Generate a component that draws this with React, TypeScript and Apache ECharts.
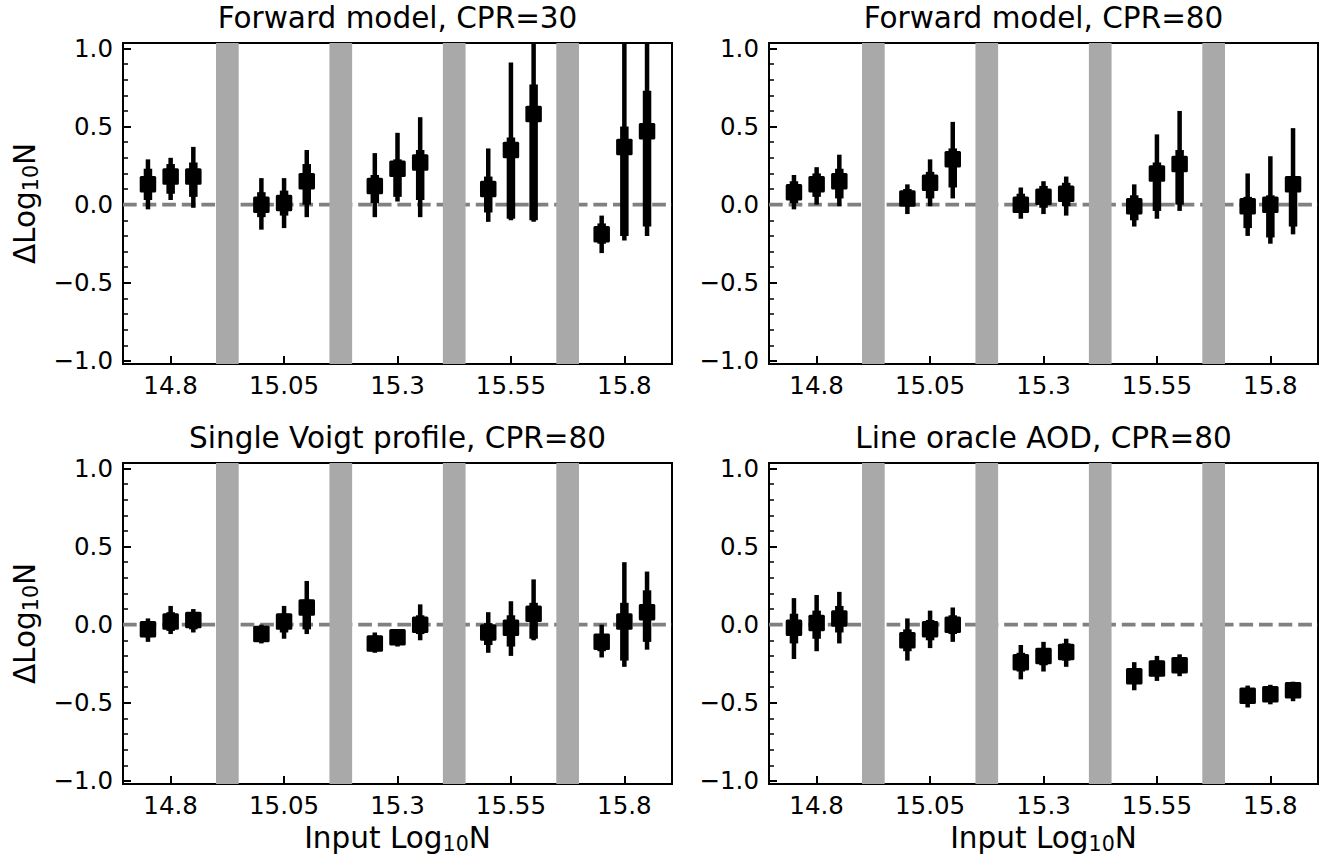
import React, { useEffect, useRef } from "react";
import * as echarts from "echarts";

// ---------- data ----------
const X_POSITIONS = [14.75, 14.8, 14.85, 15.0, 15.05, 15.1, 15.25, 15.3, 15.35, 15.5, 15.55, 15.6, 15.75, 15.8, 15.85];
const X_TICKS = [14.8, 15.05, 15.3, 15.55, 15.8];
const X_TICK_LABELS = ["14.8", "15.05", "15.3", "15.55", "15.8"];
const Y_MAJOR_TICKS = [-1, -0.5, 0, 0.5, 1];
const Y_MINOR_TICKS = [-1, -0.9, -0.8, -0.7, -0.6, -0.5, -0.4, -0.3, -0.2, -0.1, 0, 0.1, 0.2, 0.3, 0.4, 0.5, 0.6, 0.7, 0.8, 0.9, 1];
const BAND_STARTS = [14.9, 15.15, 15.4, 15.65];
const BAND_ENDS = [14.95, 15.2, 15.45, 15.7];
const REFERENCE_LEVEL = 0;
const X_MIN = 14.695;
const X_MAX = 15.905;
const Y_MIN = -1.02;
const Y_MAX = 1.035;

const PANEL_TITLES = [
  "Forward model, CPR=30",
  "Forward model, CPR=80",
  "Single Voigt profile, CPR=80",
  "Line oracle AOD, CPR=80",
];

// Forward model, CPR=30
const FWD30_MED = [0.13, 0.18, 0.18, 0.0, 0.01, 0.15, 0.12, 0.23, 0.27, 0.1, 0.35, 0.58, -0.19, 0.37, 0.47];
const FWD30_IN_LO = [0.03, 0.07, 0.05, -0.08, -0.07, 0.0, 0.01, 0.05, 0.03, -0.05, -0.09, -0.1, -0.25, -0.2, -0.14];
const FWD30_IN_HI = [0.23, 0.26, 0.27, 0.08, 0.09, 0.26, 0.19, 0.29, 0.35, 0.18, 0.43, 0.77, -0.12, 0.5, 0.73];
const FWD30_OUT_LO = [-0.03, 0.03, -0.02, -0.16, -0.15, -0.08, -0.08, 0.02, -0.08, -0.11, -0.1, -0.11, -0.31, -0.23, -0.2];
const FWD30_OUT_HI = [0.29, 0.3, 0.37, 0.17, 0.17, 0.35, 0.33, 0.46, 0.56, 0.36, 0.91, 1.25, -0.07, 1.25, 1.25];

// Forward model, CPR=80
const FWD80_MED = [0.08, 0.13, 0.15, 0.04, 0.14, 0.29, 0.0, 0.05, 0.07, -0.01, 0.2, 0.26, -0.01, 0.0, 0.13];
const FWD80_IN_LO = [0.01, 0.05, 0.04, 0.0, 0.04, 0.11, -0.05, -0.02, -0.01, -0.1, -0.04, 0.0, -0.15, -0.21, -0.14];
const FWD80_IN_HI = [0.15, 0.2, 0.23, 0.1, 0.21, 0.36, 0.07, 0.12, 0.14, 0.06, 0.27, 0.35, 0.05, 0.06, 0.18];
const FWD80_OUT_LO = [-0.03, 0.0, -0.01, -0.06, -0.01, 0.04, -0.09, -0.06, -0.07, -0.14, -0.09, -0.04, -0.2, -0.25, -0.19];
const FWD80_OUT_HI = [0.19, 0.24, 0.32, 0.13, 0.29, 0.53, 0.11, 0.15, 0.18, 0.13, 0.45, 0.6, 0.2, 0.31, 0.49];

// Single Voigt profile, CPR=80
const VOIGT_MED = [-0.03, 0.02, 0.03, -0.06, 0.02, 0.11, -0.12, -0.08, 0.0, -0.05, -0.02, 0.07, -0.11, 0.02, 0.08];
const VOIGT_IN_LO = [-0.08, -0.04, -0.03, -0.1, -0.05, -0.03, -0.17, -0.13, -0.06, -0.13, -0.14, -0.09, -0.17, -0.23, -0.11];
const VOIGT_IN_HI = [0.01, 0.08, 0.08, -0.01, 0.07, 0.16, -0.07, -0.03, 0.06, 0.01, 0.06, 0.14, -0.06, 0.14, 0.22];
const VOIGT_OUT_LO = [-0.11, -0.06, -0.05, -0.12, -0.09, -0.06, -0.18, -0.14, -0.1, -0.18, -0.2, -0.1, -0.21, -0.27, -0.16];
const VOIGT_OUT_HI = [0.04, 0.12, 0.1, 0.0, 0.12, 0.28, -0.05, -0.03, 0.13, 0.08, 0.15, 0.29, 0.0, 0.4, 0.34];

// Line oracle AOD, CPR=80
const AOD_MED = [-0.02, 0.01, 0.04, -0.1, -0.03, 0.0, -0.24, -0.2, -0.175, -0.33, -0.28, -0.26, -0.455, -0.445, -0.42];
const AOD_IN_LO = [-0.12, -0.09, -0.05, -0.17, -0.1, -0.06, -0.3, -0.26, -0.23, -0.38, -0.33, -0.31, -0.5, -0.49, -0.46];
const AOD_IN_HI = [0.07, 0.09, 0.12, -0.03, 0.03, 0.06, -0.18, -0.15, -0.12, -0.28, -0.23, -0.22, -0.41, -0.4, -0.38];
const AOD_OUT_LO = [-0.22, -0.17, -0.12, -0.23, -0.15, -0.11, -0.35, -0.3, -0.27, -0.42, -0.36, -0.33, -0.53, -0.51, -0.49];
const AOD_OUT_HI = [0.17, 0.19, 0.21, 0.04, 0.09, 0.11, -0.13, -0.11, -0.09, -0.24, -0.2, -0.19, -0.39, -0.385, -0.365];

// ---------- layout / style ----------
const FONT = "'DejaVu Sans', 'Noto Sans', sans-serif";
const PANEL_W = 549;
const PANEL_H = 321;
const PANEL_POS = [
  { left: 123, top: 43 },
  { left: 769, top: 43 },
  { left: 123, top: 463 },
  { left: 769, top: 463 },
];
const TICK_FONT = 24.5;
const TITLE_FONT = 29.5;
const SUB_FONT = 20.6;

const PANEL_SERIES = [
  [FWD30_MED, FWD30_IN_LO, FWD30_IN_HI, FWD30_OUT_LO, FWD30_OUT_HI],
  [FWD80_MED, FWD80_IN_LO, FWD80_IN_HI, FWD80_OUT_LO, FWD80_OUT_HI],
  [VOIGT_MED, VOIGT_IN_LO, VOIGT_IN_HI, VOIGT_OUT_LO, VOIGT_OUT_HI],
  [AOD_MED, AOD_IN_LO, AOD_IN_HI, AOD_OUT_LO, AOD_OUT_HI],
];

function fmtY(v: number) {
  const s = Math.abs(v).toFixed(1);
  return v < -1e-9 ? "\u2212" + s : s;
}
function fmtX(v: number) {
  const i = X_TICKS.findIndex((t) => Math.abs(t - v) < 1e-6);
  return i >= 0 ? X_TICK_LABELS[i] : "";
}

function renderBand(params: any, api: any) {
  const p0 = api.coord([api.value(0), api.value(3)]);
  const p1 = api.coord([api.value(1), api.value(2)]);
  return {
    type: "rect",
    shape: { x: p0[0], y: p0[1], width: p1[0] - p0[0], height: p1[1] - p0[1] },
    style: { fill: "#a9a9a9" },
  };
}

function renderRef(params: any, api: any) {
  const p0 = api.coord([api.value(0), api.value(2)]);
  const p1 = api.coord([api.value(1), api.value(2)]);
  return {
    type: "line",
    shape: { x1: p0[0], y1: p0[1], x2: p1[0], y2: p1[1] },
    style: { stroke: "#808080", lineWidth: 3.7, lineDash: [13.7, 5.9] },
  };
}

function renderErr(params: any, api: any) {
  const x = api.value(0);
  const m = api.coord([x, api.value(1)]);
  const il = api.coord([x, api.value(2)]);
  const ih = api.coord([x, api.value(3)]);
  const ol = api.coord([x, api.value(4)]);
  const oh = api.coord([x, api.value(5)]);
  const s = 16.5;
  return {
    type: "group",
    children: [
      { type: "line", shape: { x1: ol[0], y1: ol[1], x2: oh[0], y2: oh[1] }, style: { stroke: "#000", lineWidth: 4.5 } },
      { type: "line", shape: { x1: il[0], y1: il[1], x2: ih[0], y2: ih[1] }, style: { stroke: "#000", lineWidth: 8.5 } },
      { type: "rect", shape: { x: m[0] - s / 2, y: m[1] - s / 2, width: s, height: s, r: 1.5 }, style: { fill: "#000" } },
    ],
  };
}

function richLabel(prefix: string) {
  return {
    text: `{a|${prefix}Log}{b|10}{a|N}`,
    rich: {
      a: { fontSize: TITLE_FONT, fontFamily: FONT, lineHeight: 33, fill: "#000", color: "#000" },
      b: { fontSize: SUB_FONT, fontFamily: FONT, lineHeight: 15, verticalAlign: "bottom", fill: "#000", color: "#000" },
    },
    align: "center",
    verticalAlign: "middle",
  };
}

export default function App() {
  const ref = useRef<HTMLDivElement>(null);

  useEffect(() => {
    if (!ref.current) return;
    const chart = echarts.init(ref.current, undefined, { renderer: "svg" });

    const grids: any[] = [];
    const xAxes: any[] = [];
    const yAxes: any[] = [];
    const series: any[] = [];
    const graphics: any[] = [];

    const bandData = BAND_STARTS.map((b, i) => [b, BAND_ENDS[i], Y_MIN, Y_MAX]);
    const refData = [[X_MIN, X_MAX, REFERENCE_LEVEL]];

    PANEL_POS.forEach((pos, i) => {
      grids.push({
        left: pos.left,
        top: pos.top,
        width: PANEL_W,
        height: PANEL_H,
        show: true,
        borderColor: "#000",
        borderWidth: 2,
        backgroundColor: "transparent",
        containLabel: false,
      });
      xAxes.push({
        type: "value",
        gridIndex: i,
        position: "bottom",
        min: X_MIN,
        max: X_MAX,
        axisLine: { show: false, onZero: false },
        splitLine: { show: false },
        axisTick: { show: true, inside: true, length: 8, customValues: X_TICKS, lineStyle: { color: "#000", width: 2 } },
        axisLabel: {
          show: true,
          customValues: X_TICKS,
          formatter: (v: number) => fmtX(v),
          fontSize: TICK_FONT,
          fontFamily: FONT,
          color: "#000",
          margin: 9,
        },
      });
      yAxes.push({
        type: "value",
        gridIndex: i,
        position: "left",
        min: Y_MIN,
        max: Y_MAX,
        axisLine: { show: false, onZero: false },
        splitLine: { show: false },
        axisTick: { show: true, inside: true, length: 8, customValues: Y_MAJOR_TICKS, lineStyle: { color: "#000", width: 2 } },
        axisLabel: {
          show: true,
          customValues: Y_MAJOR_TICKS,
          formatter: (v: number) => fmtY(v),
          fontSize: TICK_FONT,
          fontFamily: FONT,
          color: "#000",
          margin: 10,
        },
      });
      yAxes.push({
        type: "value",
        gridIndex: i,
        position: "left",
        offset: 0,
        min: Y_MIN,
        max: Y_MAX,
        axisLine: { show: false, onZero: false },
        splitLine: { show: false },
        axisLabel: { show: false },
        axisTick: { show: true, inside: true, length: 5, customValues: Y_MINOR_TICKS, lineStyle: { color: "#000", width: 1.5 } },
      });

      series.push({
        type: "custom",
        xAxisIndex: i,
        yAxisIndex: 2 * i,
        z: 1,
        clip: true,
        silent: true,
        renderItem: renderRef,
        encode: { x: [0, 1], y: 2 },
        data: refData,
      });
      series.push({
        type: "custom",
        xAxisIndex: i,
        yAxisIndex: 2 * i,
        z: 2,
        clip: true,
        silent: true,
        renderItem: renderBand,
        encode: { x: [0, 1], y: [2, 3] },
        data: bandData,
      });
      const [med, inLo, inHi, outLo, outHi] = PANEL_SERIES[i];
      series.push({
        type: "custom",
        xAxisIndex: i,
        yAxisIndex: 2 * i,
        z: 3,
        clip: true,
        silent: true,
        renderItem: renderErr,
        encode: { x: 0, y: [1, 2, 3, 4, 5] },
        data: X_POSITIONS.map((x, k) => [x, med[k], inLo[k], inHi[k], outLo[k], outHi[k]]),
      });

      graphics.push({
        type: "text",
        x: pos.left + PANEL_W / 2,
        y: pos.top - 25.5,
        silent: true,
        style: {
          text: PANEL_TITLES[i],
          fontSize: TITLE_FONT,
          fontFamily: FONT,
          fill: "#000",
          align: "center",
          verticalAlign: "middle",
        },
      });
    });

    // y labels (left column)
    [0, 2].forEach((i) => {
      const pos = PANEL_POS[i];
      graphics.push({
        type: "text",
        x: 25,
        y: pos.top + PANEL_H / 2,
        rotation: Math.PI / 2,
        silent: true,
        style: richLabel("\u0394"),
      });
    });
    // x labels (bottom row)
    [2, 3].forEach((i) => {
      const pos = PANEL_POS[i];
      graphics.push({
        type: "text",
        x: pos.left + PANEL_W / 2,
        y: 838,
        silent: true,
        style: richLabel("Input "),
      });
    });

    chart.setOption({
      animation: false,
      backgroundColor: "#ffffff",
      grid: grids,
      xAxis: xAxes,
      yAxis: yAxes,
      series,
      graphic: graphics,
    });

    return () => {
      chart.dispose();
    };
  }, []);

  return (
    <div
      ref={ref}
      style={{ position: "absolute", left: 0, top: 0, width: 1322, height: 858, background: "#fff" }}
    />
  );
}
